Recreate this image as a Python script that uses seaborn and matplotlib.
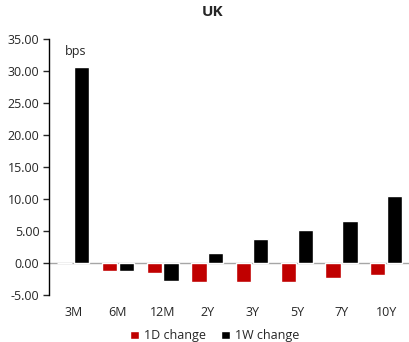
import numpy as np
import pandas as pd
import matplotlib.pyplot as plt
import seaborn as sns

# datos del gráfico
tenors = ['3M', '6M', '12M', '2Y', '3Y', '5Y', '7Y', '10Y']
d1_change = [0.0, -1.2, -1.5, -3.0, -2.9, -2.9, -2.4, -1.9]
w1_change = [30.7, -1.2, -2.8, 1.6, 3.7, 5.1, 6.6, 10.5]

df = pd.DataFrame({
    'tenor': tenors * 2,
    'value': d1_change + w1_change,
    'serie': ['1D change'] * len(tenors) + ['1W change'] * len(tenors),
})

sns.set_style('white')
plt.rcParams['font.family'] = ['Open Sans', 'DejaVu Sans']

fig = plt.figure(figsize=(4.09, 3.42), dpi=100)
ax = fig.add_axes([0.12, 0.137, 0.88, 0.749])

sns.barplot(data=df, x='tenor', y='value', hue='serie',
            palette=['#C00000', '#000000'], width=0.76, gap=0.1,
            saturation=1, ax=ax, legend=True)

ax.set_ylim(-5, 35)
ax.set_yticks(np.arange(-5, 36, 5))
ax.set_yticklabels([f'{v:.2f}' for v in np.arange(-5, 36, 5)], fontsize=9)
ax.set_xlim(-0.54, 7.51)
ax.axhline(0, color='#a6a6a6', lw=1, zorder=0.5)
ax.tick_params(axis='x', length=0, labelsize=9, pad=8)
ax.tick_params(axis='y', length=4, width=1, direction='out', left=True, pad=3)
for s in ['top', 'right', 'bottom']:
    ax.spines[s].set_visible(False)
ax.spines['left'].set_color('black')
ax.spines['left'].set_linewidth(1)
ax.set_xlabel('')
ax.set_ylabel('')
ax.text(0.045, 0.975, 'bps', transform=ax.transAxes, fontsize=9, va='top')

fig.suptitle('UK', fontsize=11, fontweight='bold', y=0.985, x=0.52)

ax.legend(loc='upper center', bbox_to_anchor=(0.46, -0.09), ncol=2,
          frameon=False, fontsize=9, handlelength=0.7, handleheight=0.7,
          columnspacing=1.2, handletextpad=0.4)

fig.savefig('out.png', dpi=100)
